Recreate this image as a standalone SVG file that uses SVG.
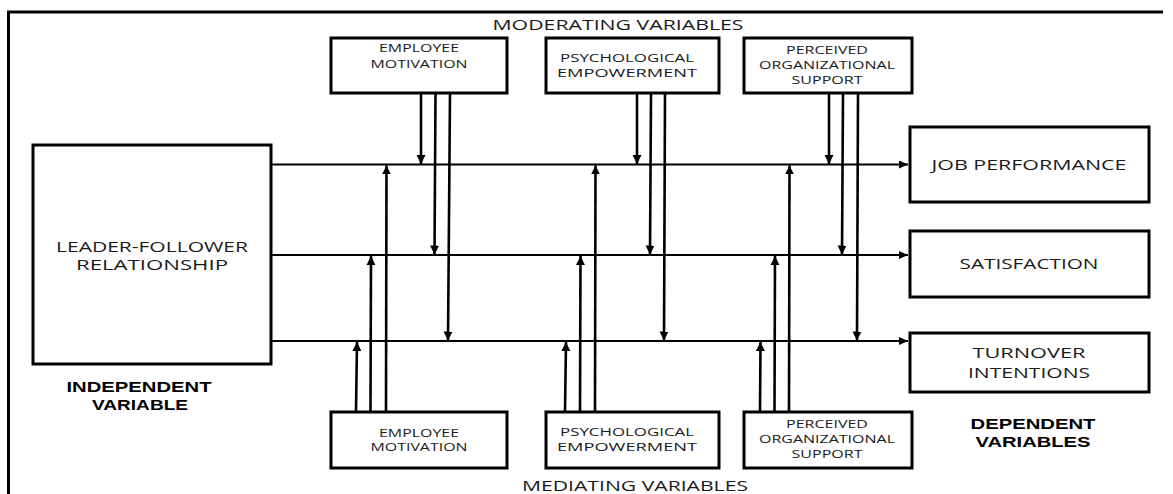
<svg xmlns="http://www.w3.org/2000/svg" width="1173" height="494" viewBox="0 0 1173 494">
<style>
  .box { fill: #fff; stroke: #000; stroke-width: 3; }
  .t { font-family: "Open Sans", "Liberation Sans", sans-serif; fill: #1a1a1a; text-anchor: middle; }
  .s { font-size: 11.5px; }
  .m { font-size: 15px; }
  .b { font-family: "Liberation Sans", Arial, sans-serif; font-size: 15.5px; font-weight: bold; fill: #000; }
  .h { stroke: #000; stroke-width: 2; fill: none; }
  .v { stroke: #000; stroke-width: 2.6; fill: none; }
</style>
<defs>
  <marker id="ah" markerUnits="userSpaceOnUse" markerWidth="10" markerHeight="8" refX="9" refY="4" orient="auto">
    <path d="M0,0 L9,4 L0,8 Z" fill="#000"/>
  </marker>
  <marker id="av" markerUnits="userSpaceOnUse" markerWidth="10" markerHeight="10" refX="9" refY="4.5" orient="auto">
    <path d="M0,0 L9,4.5 L0,9 Z" fill="#000"/>
  </marker>
</defs>
<rect width="1173" height="494" fill="#fff"/>
<g id="frame">
  <path d="M8.5,494 L8.5,12 L1163,12" stroke="#000" stroke-width="3" fill="none"/>
</g>

<g id="labels">
  <text class="t m" x="618" y="30" textLength="251" lengthAdjust="spacingAndGlyphs">MODERATING VARIABLES</text>
  <text class="t m" x="635" y="491" textLength="226" lengthAdjust="spacingAndGlyphs">MEDIATING VARIABLES</text>
  <text class="t b" x="139" y="392" textLength="145" lengthAdjust="spacingAndGlyphs">INDEPENDENT</text>
  <text class="t b" x="140" y="410" textLength="96" lengthAdjust="spacingAndGlyphs">VARIABLE</text>
  <text class="t b" x="1033" y="429" textLength="125" lengthAdjust="spacingAndGlyphs">DEPENDENT</text>
  <text class="t b" x="1033" y="447" textLength="115" lengthAdjust="spacingAndGlyphs">VARIABLES</text>
</g>

<g id="connectors">
  <!-- main horizontal arrows -->
  <line class="h" x1="272" y1="164.5" x2="908" y2="164.5" marker-end="url(#ah)"/>
  <line class="h" x1="272" y1="255" x2="908" y2="255" marker-end="url(#ah)"/>
  <line class="h" x1="272" y1="341" x2="908" y2="341" marker-end="url(#ah)"/>
  <!-- moderators (top) down arrows -->
  <line class="v" x1="421" y1="94" x2="421" y2="164" marker-end="url(#av)"/>
  <line class="v" x1="435.5" y1="94" x2="434.5" y2="254.5" marker-end="url(#av)"/>
  <line class="v" x1="450" y1="94" x2="448" y2="340.5" marker-end="url(#av)"/>
  <line class="v" x1="637" y1="94" x2="637" y2="164" marker-end="url(#av)"/>
  <line class="v" x1="651" y1="94" x2="650" y2="254.5" marker-end="url(#av)"/>
  <line class="v" x1="665" y1="94" x2="664" y2="340.5" marker-end="url(#av)"/>
  <line class="v" x1="829" y1="94" x2="829" y2="164" marker-end="url(#av)"/>
  <line class="v" x1="843" y1="94" x2="842" y2="254.5" marker-end="url(#av)"/>
  <line class="v" x1="858" y1="94" x2="857" y2="340.5" marker-end="url(#av)"/>
  <!-- mediators (bottom) up arrows -->
  <line class="v" x1="356" y1="411" x2="357" y2="342" marker-end="url(#av)"/>
  <line class="v" x1="370.5" y1="411" x2="371" y2="256" marker-end="url(#av)"/>
  <line class="v" x1="386" y1="411" x2="386.5" y2="165.5" marker-end="url(#av)"/>
  <line class="v" x1="565" y1="411" x2="566" y2="342" marker-end="url(#av)"/>
  <line class="v" x1="580" y1="411" x2="580.5" y2="256" marker-end="url(#av)"/>
  <line class="v" x1="595" y1="411" x2="595.5" y2="165.5" marker-end="url(#av)"/>
  <line class="v" x1="760" y1="411" x2="760.5" y2="342" marker-end="url(#av)"/>
  <line class="v" x1="774.5" y1="411" x2="775" y2="256" marker-end="url(#av)"/>
  <line class="v" x1="789" y1="411" x2="789.5" y2="165.5" marker-end="url(#av)"/>
</g>

<g id="leader">
  <rect class="box" x="33" y="145" width="238" height="219"/>
  <text class="t m" x="152" y="252" textLength="192" lengthAdjust="spacingAndGlyphs">LEADER-FOLLOWER</text>
  <text class="t m" x="152" y="270" textLength="152" lengthAdjust="spacingAndGlyphs">RELATIONSHIP</text>
</g>

<g id="mod-motivation">
  <rect class="box" x="331" y="38" width="176" height="55"/>
  <text class="t s" x="419" y="52" textLength="80" lengthAdjust="spacingAndGlyphs">EMPLOYEE</text>
  <text class="t s" x="419" y="68" textLength="97" lengthAdjust="spacingAndGlyphs">MOTIVATION</text>
</g>
<g id="mod-empowerment">
  <rect class="box" x="546" y="38" width="173" height="55"/>
  <text class="t s" x="627" y="62" textLength="134" lengthAdjust="spacingAndGlyphs">PSYCHOLOGICAL</text>
  <text class="t s" x="627" y="77" textLength="140" lengthAdjust="spacingAndGlyphs">EMPOWERMENT</text>
</g>
<g id="mod-support">
  <rect class="box" x="744" y="38" width="168" height="55"/>
  <text class="t s" x="827" y="54" textLength="82" lengthAdjust="spacingAndGlyphs">PERCEIVED</text>
  <text class="t s" x="827" y="69" textLength="136" lengthAdjust="spacingAndGlyphs">ORGANIZATIONAL</text>
  <text class="t s" x="827" y="84" textLength="71" lengthAdjust="spacingAndGlyphs">SUPPORT</text>
</g>

<g id="med-motivation">
  <rect class="box" x="331" y="412" width="176" height="56"/>
  <text class="t s" x="419" y="437" textLength="80" lengthAdjust="spacingAndGlyphs">EMPLOYEE</text>
  <text class="t s" x="419" y="451" textLength="97" lengthAdjust="spacingAndGlyphs">MOTIVATION</text>
</g>
<g id="med-empowerment">
  <rect class="box" x="546" y="412" width="173" height="56"/>
  <text class="t s" x="627" y="436" textLength="134" lengthAdjust="spacingAndGlyphs">PSYCHOLOGICAL</text>
  <text class="t s" x="627" y="451" textLength="140" lengthAdjust="spacingAndGlyphs">EMPOWERMENT</text>
</g>
<g id="med-support">
  <rect class="box" x="744" y="412" width="168" height="56"/>
  <text class="t s" x="827" y="428" textLength="82" lengthAdjust="spacingAndGlyphs">PERCEIVED</text>
  <text class="t s" x="827" y="443" textLength="136" lengthAdjust="spacingAndGlyphs">ORGANIZATIONAL</text>
  <text class="t s" x="827" y="458" textLength="71" lengthAdjust="spacingAndGlyphs">SUPPORT</text>
</g>

<g id="job-performance">
  <rect class="box" x="910" y="127" width="239" height="75"/>
  <text class="t m" x="1029" y="170" textLength="195" lengthAdjust="spacingAndGlyphs">JOB PERFORMANCE</text>
</g>
<g id="satisfaction">
  <rect class="box" x="910" y="231" width="239" height="66"/>
  <text class="t m" x="1029" y="269" textLength="139" lengthAdjust="spacingAndGlyphs">SATISFACTION</text>
</g>
<g id="turnover">
  <rect class="box" x="910" y="333" width="239" height="59"/>
  <text class="t m" x="1029" y="358" textLength="113" lengthAdjust="spacingAndGlyphs">TURNOVER</text>
  <text class="t m" x="1029" y="378" textLength="122" lengthAdjust="spacingAndGlyphs">INTENTIONS</text>
</g>
</svg>
